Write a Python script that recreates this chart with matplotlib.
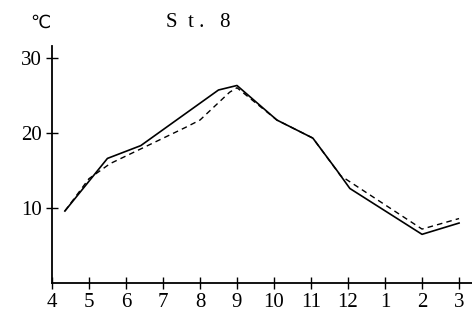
import matplotlib.pyplot as plt

# month labels along the x axis (April to March)
months = ["4", "5", "6", "7", "8", "9", "10", "11", "12", "1", "2", "3"]

# solid line: positions in month units from April, temperature in deg C
solid_x = [0.35, 1.5, 2.4, 4.5, 5.0, 6.08, 7.05, 7.7, 8.05, 10.0, 11.0]
solid_y = [9.6, 16.6, 18.3, 25.7, 26.3, 21.7, 19.3, 15.0, 12.6, 6.5, 8.0]

# dashed line
dash_x = [0.35, 1.0, 1.57, 3.6, 4.0, 4.8, 5.0, 6.08, 7.05, 7.8, 10.0, 11.0]
dash_y = [9.6, 13.9, 15.9, 20.7, 21.7, 25.4, 26.0, 21.7, 19.3, 14.3, 7.2, 8.6]

yticks = [10, 20, 30]

plt.rcParams['font.family'] = ['Liberation Serif', 'DejaVu Serif']

fig = plt.figure(figsize=(4.72, 3.2), dpi=100)
ax = fig.add_axes([0.110, 0.115, 0.89, 0.74])

ax.plot(solid_x, solid_y, color='black', lw=1.2)
ax.plot(dash_x, dash_y, color='black', lw=1.0, linestyle=(0, (4, 3)))

ax.set_xlim(0, 11.35)
ax.set_ylim(0, 31.5)
ax.set_xticks(range(len(months)))
ax.set_xticklabels(months, fontsize=15)
ax.set_yticks(yticks)
ax.set_yticklabels([str(t) for t in yticks], fontsize=15)
ax.tick_params(direction='inout', length=8, width=1, colors='black', pad=3)

ax.spines['top'].set_visible(False)
ax.spines['right'].set_visible(False)
ax.spines['left'].set_linewidth(1.3)
ax.spines['bottom'].set_linewidth(1.3)

fig.text(0.085, 0.93, "℃", fontsize=13, ha='center', va='center',
         family=['DejaVu Sans'])
fig.text(0.42, 0.93, "S  t .   8", fontsize=15, ha='center', va='center')

plt.savefig("out.png", dpi=100)
plt.close()
